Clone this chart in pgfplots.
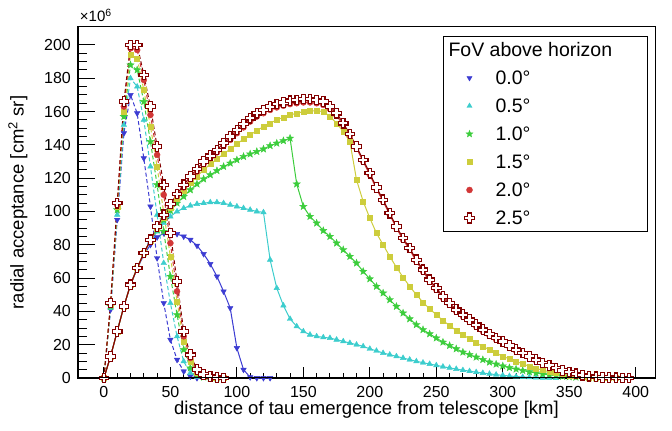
\documentclass[border=0pt]{standalone}
\usepackage{pgfplots}
\pgfplotsset{compat=1.18}
\usepackage{fontspec}
\setmainfont{Liberation Sans}
\definecolor{cblue}{RGB}{60,60,210}
\definecolor{ccyan}{RGB}{60,205,205}
\definecolor{cgreen}{RGB}{60,205,60}
\definecolor{cyellow}{RGB}{205,205,60}
\definecolor{cred}{RGB}{210,55,55}
\definecolor{cdark}{RGB}{130,0,0}
\pgfdeclareplotmark{fstar}{%
  \pgfpathmoveto{\pgfpointpolar{90}{\pgfplotmarksize}}%
  \pgfpathlineto{\pgfpointpolar{126}{0.42\pgfplotmarksize}}%
  \pgfpathlineto{\pgfpointpolar{162}{\pgfplotmarksize}}%
  \pgfpathlineto{\pgfpointpolar{198}{0.42\pgfplotmarksize}}%
  \pgfpathlineto{\pgfpointpolar{234}{\pgfplotmarksize}}%
  \pgfpathlineto{\pgfpointpolar{270}{0.42\pgfplotmarksize}}%
  \pgfpathlineto{\pgfpointpolar{306}{\pgfplotmarksize}}%
  \pgfpathlineto{\pgfpointpolar{342}{0.42\pgfplotmarksize}}%
  \pgfpathlineto{\pgfpointpolar{18}{\pgfplotmarksize}}%
  \pgfpathlineto{\pgfpointpolar{54}{0.42\pgfplotmarksize}}%
  \pgfpathclose\pgfusepathqfillstroke}
\pgfdeclareplotmark{ocross}{%
  \pgfpathmoveto{\pgfpoint{0.36\pgfplotmarksize}{\pgfplotmarksize}}%
  \pgfpathlineto{\pgfpoint{0.36\pgfplotmarksize}{0.36\pgfplotmarksize}}%
  \pgfpathlineto{\pgfpoint{\pgfplotmarksize}{0.36\pgfplotmarksize}}%
  \pgfpathlineto{\pgfpoint{\pgfplotmarksize}{-0.36\pgfplotmarksize}}%
  \pgfpathlineto{\pgfpoint{0.36\pgfplotmarksize}{-0.36\pgfplotmarksize}}%
  \pgfpathlineto{\pgfpoint{0.36\pgfplotmarksize}{-\pgfplotmarksize}}%
  \pgfpathlineto{\pgfpoint{-0.36\pgfplotmarksize}{-\pgfplotmarksize}}%
  \pgfpathlineto{\pgfpoint{-0.36\pgfplotmarksize}{-0.36\pgfplotmarksize}}%
  \pgfpathlineto{\pgfpoint{-\pgfplotmarksize}{-0.36\pgfplotmarksize}}%
  \pgfpathlineto{\pgfpoint{-\pgfplotmarksize}{0.36\pgfplotmarksize}}%
  \pgfpathlineto{\pgfpoint{-0.36\pgfplotmarksize}{0.36\pgfplotmarksize}}%
  \pgfpathlineto{\pgfpoint{-0.36\pgfplotmarksize}{\pgfplotmarksize}}%
  \pgfpathclose\pgfusepathqfillstroke}
\tikzset{
  dsh/.style={line width=1bp, dash pattern=on 4bp off 2.5bp},
  sld/.style={line width=1bp, solid},
  mblue/.style={mark=triangle*, mark size=3.2bp, mark options={solid, rotate=180, fill=cblue, draw=cblue, line width=0.4bp}},
  mcyan/.style={mark=triangle*, mark size=3.2bp, mark options={solid, fill=ccyan, draw=ccyan, line width=0.4bp}},
  mgreen/.style={mark=fstar, mark size=3.8bp, mark options={solid, fill=cgreen, draw=cgreen, line width=0.4bp}},
  myellow/.style={mark=square*, mark size=2.5bp, mark options={solid, fill=cyellow, draw=cyellow, line width=0.4bp}},
  mred/.style={mark=*, mark size=3bp, mark options={solid, fill=cred, draw=cred, line width=0.4bp}},
  mdark/.style={mark=ocross, mark size=4.8bp, mark options={solid, fill=white, draw=cdark, line width=1.1bp}},
}
\newcommand{\fs}[1]{\fontsize{#1bp}{#1bp}\selectfont}
\begin{document}
\begin{tikzpicture}
\useasboundingbox (-78bp,-53bp) rectangle (594bp,378bp);
\begin{axis}[
  at={(0,0)}, anchor=south west,
  width=577bp, height=351bp, scale only axis,
  xmin=-19.5, xmax=414.5, ymin=0, ymax=210.8,
  clip=false,
  axis line style={line width=1bp, black},
  tick align=inside,
  xtick={0,50,...,400}, minor x tick num=4, ytick=\empty,
  xtick pos=bottom,
  major tick length=10.5bp, minor tick length=5.5bp,
  tick style={line width=1bp, black},
  /pgf/number format/assume math mode=true,
  xticklabel style={font=\fs{16}, inner sep=0pt, anchor=north, yshift=-8bp},
  xlabel={distance of tau emergence from telescope [km]},
  every axis x label/.style={at={(axis description cs:0.5,-0.0912)}, anchor=center, font=\fs{18.5}},
  ylabel={radial acceptance [cm\textsuperscript{2} sr]},
  every axis y label/.style={at={(axis description cs:-0.104,0.5)}, anchor=center, rotate=90, font=\fs{18.5}},
  legend style={at={(axis description cs:0.6326,0.9744)}, anchor=north west,
    draw=black, line width=1bp, fill=white,
    inner xsep=0pt, inner ysep=4.5bp, row sep=10bp, column sep=16bp,
    font=\fs{19.5},
    nodes={inner sep=0pt, text height=16bp, text depth=2bp}},
  legend cell align=left,
  legend image code/.code={\path[draw=none, fill=none] (-26bp,-4bp) rectangle (10bp,4bp); \draw[#1] plot coordinates {(0bp,0bp)};},
]
% 0.0 deg
\addplot[cblue, dsh, mblue, forget plot] coordinates {(0,0)(5,41)(10,95)(15,147)(20,170)(25,159)(30,132)(35,103)(40,72)(45,45)(50,23)(55,11)(60,4)(65,1)(70,0)};
\addplot[cblue, sld, mblue, forget plot] coordinates {(0,0)(5,13)(10,28)(15,43)(20,56)(25,65.5)(30,74)(35,80)(40,84.5)(45,87)(50,87.5)(55,86.5)(60,85)(65,83)(70,79.5)(75,74.5)(80,68.5)(85,61)(90,52)(95,42)(100,18)(105,5)(110,0.5)(115,0)(120,0)(125,0)};
% 0.5 deg
\addplot[ccyan, dsh, mcyan, forget plot] coordinates {(0,0)(5,42)(10,98)(15,152)(20,180)(25,175)(30,155)(35,127)(40,98)(45,69)(50,45)(55,25)(60,10)(65,3)(70,0.7)(75,0.1)(80,0)};
\addplot[ccyan, sld, mcyan, forget plot] coordinates {(0,0)(5,13)(10,28)(15,43)(20,56)(25,66)(30,75)(35,82)(40,88)(45,93)(50,97)(55,100)(60,102)(65,103.5)(70,104.5)(75,105)(80,105.5)(85,105.5)(90,105)(95,104)(100,103)(105,102)(110,101)(115,100)(120,99.5)(125,71)(130,54)(135,43.5)(140,35.5)(145,31)(150,28)(155,26)(160,25)(165,24.4)(170,24)(175,23)(180,22)(185,21)(190,20)(195,19)(200,17.5)(205,16.3)(210,15)(215,14)(220,13)(225,12)(230,11)(235,10)(240,9.2)(245,8.4)(250,7.6)(255,6.8)(260,6.1)(265,5.4)(270,4.7)(275,4.1)(280,3.5)(285,3)(290,2.5)(295,2)(300,1.6)(305,1.2)(310,0.9)(315,0.6)(320,0.4)(325,0.25)(330,0.12)(335,0.05)(340,0)};
% 1.0 deg
\addplot[cgreen, dsh, mgreen, forget plot] coordinates {(0,0)(5,43)(10,101)(15,157)(20,188)(25,185)(30,166)(35,142)(40,116)(45,88)(50,61)(55,38)(60,17)(65,6)(70,2)(75,0.5)(80,0.1)(85,0)};
\addplot[cgreen, sld, mgreen, forget plot] coordinates {(0,0)(5,13)(10,28)(15,43)(20,56)(25,66)(30,75)(35,82.5)(40,89)(45,95)(50,100.5)(55,105)(60,109)(65,113)(70,116.5)(75,119.5)(80,122)(85,124.5)(90,127)(95,129)(100,131)(105,133)(110,134.5)(115,136)(120,137.5)(125,139.5)(130,141)(135,142.5)(140,144)(145,116.5)(150,103)(155,97)(160,93)(165,88.5)(170,85)(175,81)(180,77)(185,73)(190,69)(195,64)(200,59.5)(205,55)(210,51)(215,47)(220,43)(225,39)(230,35.5)(235,32)(240,29)(245,26.5)(250,24)(255,21.5)(260,19.5)(265,17.5)(270,15.5)(275,14)(280,12.5)(285,11)(290,9.5)(295,8.3)(300,7.2)(305,6.2)(310,5.3)(315,4.5)(320,3.7)(325,3)(330,2.4)(335,1.9)(340,1.4)(345,1)(350,0.7)(355,0.45)(360,0.25)(365,0.1)(370,0)};
% 1.5 deg
\addplot[cyellow, dsh, myellow, forget plot] coordinates {(0,0)(5,44)(10,103)(15,160)(20,194)(25,192)(30,173)(35,151)(40,127)(45,99)(50,73)(55,46)(60,22)(65,10)(70,3)(75,1)(80,0.3)(85,0.05)(90,0)};
\addplot[cyellow, sld, myellow, forget plot] coordinates {(0,0)(5,13)(10,28)(15,43)(20,56)(25,66)(30,75)(35,82.5)(40,89.5)(45,96)(50,102)(55,107.5)(60,112.5)(65,117)(70,121)(75,125)(80,128.5)(85,131.5)(90,134.5)(95,137.5)(100,140.5)(105,143.5)(110,146)(115,148.5)(120,151)(125,153)(130,155)(135,156.5)(140,158)(145,159)(150,160)(155,160.5)(160,160.5)(165,160)(170,157)(175,153)(180,148)(185,142)(190,119)(195,106)(200,96)(205,87)(210,80)(215,73)(220,66.5)(225,60.5)(230,55)(235,50)(240,45.5)(245,41.5)(250,38)(255,34.5)(260,31.5)(265,28.5)(270,26)(275,23.5)(280,21)(285,19)(290,17)(295,15)(300,13)(305,11.5)(310,10)(315,8.5)(320,7)(325,5.8)(330,4.7)(335,3.7)(340,2.9)(345,2.2)(350,1.6)(355,1.1)(360,0.7)(365,0.4)(370,0.2)(375,0.1)(380,0.05)(385,0)};
% 2.0 deg
\addplot[cred, dsh, mred, forget plot] coordinates {(0,0)(5,44.5)(10,104)(15,163)(20,198)(25,197)(30,179)(35,158)(40,134)(45,110)(50,81)(55,52)(60,25)(65,12)(70,4)(75,1.5)(80,0.5)(85,0.1)(90,0)};
\addplot[cred, sld, mred, forget plot] coordinates {(0,0)(5,13)(10,28)(15,43)(20,56)(25,66)(30,75)(35,82.5)(40,90.5)(45,97)(50,103.5)(55,109.5)(60,114.5)(65,119.5)(70,124)(75,128.5)(80,132)(85,135.5)(90,139.5)(95,143)(100,147)(105,150.5)(110,154)(115,157)(120,159)(125,161)(130,162.5)(135,163.5)(140,164.5)(145,165)(150,165.5)(155,165.5)(160,165)(165,164)(170,161.5)(175,157.5)(180,152)(185,145.5)(190,138)(195,130)(200,122)(205,113.5)(210,106)(215,98)(220,90)(225,83)(230,77)(235,70)(240,64)(245,58)(250,53)(255,48)(260,44)(265,40)(270,37)(275,34)(280,31)(285,28)(290,25.5)(295,23)(300,21)(305,18.7)(310,16.3)(315,14.3)(320,12.4)(325,10.5)(330,8.6)(335,7.1)(340,5.7)(345,4.3)(350,3.3)(355,2.4)(360,1.6)(365,1)(370,0.6)(375,0.35)(380,0.2)(385,0.1)(390,0.05)(395,0)};
% 2.5 deg
\addplot[cdark, dsh, mdark, forget plot] coordinates {(0,0)(5,45)(10,105)(15,166)(20,200)(25,200)(30,182)(35,163)(40,139)(45,116)(50,87)(55,58)(60,28)(65,14)(70,5)(75,2)(80,0.8)(85,0.2)(90,0)};
\addplot[cdark, sld, mdark, forget plot] coordinates {(0,0)(5,13)(10,28)(15,43)(20,56)(25,66)(30,75)(35,83)(40,91)(45,98)(50,104.5)(55,110.5)(60,116)(65,121)(70,125.5)(75,130)(80,133.5)(85,137)(90,141)(95,145)(100,149)(105,152.5)(110,156)(115,159)(120,161)(125,163)(130,164.5)(135,165.5)(140,166.5)(145,167)(150,167.5)(155,167.5)(160,167)(165,166)(170,163)(175,159)(180,153)(185,146.5)(190,139)(195,131)(200,123)(205,114.5)(210,107)(215,99)(220,91)(225,84)(230,78)(235,71)(240,65)(245,59)(250,54)(255,49)(260,45)(265,41)(270,38)(275,35)(280,32)(285,29)(290,26.5)(295,24)(300,22)(305,19.5)(310,17)(315,15)(320,13)(325,11)(330,9)(335,7.5)(340,6)(345,4.5)(350,3.5)(355,2.5)(360,1.7)(365,1.1)(370,0.7)(375,0.4)(380,0.2)(385,0.1)(390,0.05)(395,0)};
% legend
\addlegendimage{empty legend}
\addlegendentry{\hspace*{-47bp}FoV above horizon\hspace*{35bp}}
\addlegendimage{only marks, mblue, mark size=3bp}
\addlegendentry{0.0°}
\addlegendimage{only marks, mcyan, mark size=3bp}
\addlegendentry{0.5°}
\addlegendimage{only marks, mgreen, mark size=3.6bp}
\addlegendentry{1.0°}
\addlegendimage{only marks, myellow, mark size=2.5bp}
\addlegendentry{1.5°}
\addlegendimage{only marks, mred, mark size=3bp}
\addlegendentry{2.0°}
\addlegendimage{only marks, mdark, mark size=5bp}
\addlegendentry{2.5°}
\node[anchor=base west, font=\fs{15}, inner sep=0pt] at (axis description cs:0.003,1.015) {×10\textsuperscript{6}};
\end{axis}
\begin{axis}[
  at={(0,0)}, anchor=south west,
  width=577bp, height=351bp, scale only axis,
  xmin=-19.5, xmax=414.5, ymin=0, ymax=210.8,
  axis line style={line width=1bp, black},
  tick align=inside,
  xtick=\empty,
  ytick={0,20,...,200}, minor y tick num=3,
  ytick pos=left,
  major tick length=17bp, minor tick length=8.5bp,
  tick style={line width=1bp, black},
  /pgf/number format/assume math mode=true,
  yticklabel style={font=\fs{16}, inner sep=0pt, anchor=east, xshift=-7bp},
]
\end{axis}
\end{tikzpicture}
\end{document}
